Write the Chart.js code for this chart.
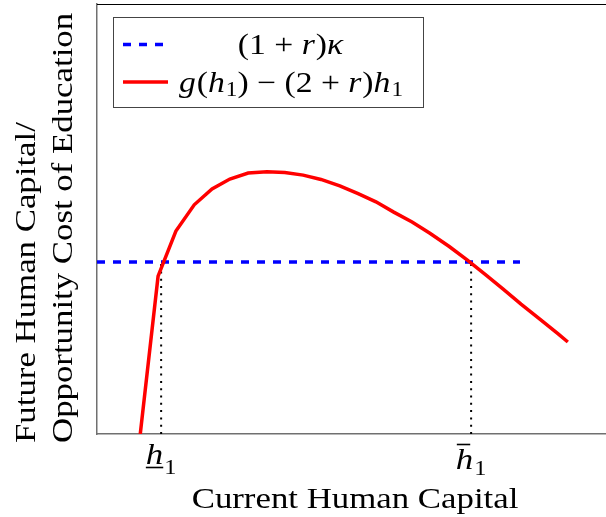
<!DOCTYPE html>
<html>
<head>
<meta charset="utf-8">
<script src="https://cdn.jsdelivr.net/npm/chart.js@4.4.0/dist/chart.umd.min.js"></script>
<style>
  html, body { margin: 0; padding: 0; background: #fff; }
</style>
</head>
<body>
<canvas id="myChart" width="606" height="517"></canvas>
<script>
// values (arbitrary units, axes run 0..10)
const currentCapital = [0.85, 1.20, 1.55, 1.91, 2.26, 2.61, 2.97, 3.34, 3.69, 4.05, 4.40, 4.77, 5.13,
  5.48, 5.83, 6.19, 6.54, 6.92, 7.27, 7.62, 7.98, 8.33, 8.70, 9.06, 9.25];
const netFutureCapital = [0, 3.67, 4.72, 5.33, 5.70, 5.93, 6.07, 6.10, 6.08, 6.02, 5.92, 5.77, 5.59,
  5.40, 5.16, 4.93, 4.67, 4.36, 4.05, 3.72, 3.37, 3.02, 2.67, 2.33, 2.14];
const costLevel = 4.0;
const costSpan = [0, 8.31];
const thresholds = [1.26, 7.35];
const thresholdMarks = ['under', 'bar'];
const xRange = [0, 10];
const yRange = [0, 10];
const legendLabels = ['(1 + r)κ', 'g(h₁) − (2 + r)h₁'];
const xTitle = 'Current Human Capital';
const yTitle = ['Future Human Capital/', 'Opportunity Cost of Education'];

const SERIF = '"Liberation Serif", "DejaVu Serif", serif';
const STRETCH = 1.16; // Computer Modern runs wider than Times

// split a label into roman / italic / subscript runs
function toRuns(str) {
  const runs = [];
  for (const ch of str) {
    let kind = 'r', t = ch;
    if (/[a-zκ]/.test(ch)) kind = 'i';
    if (ch === '₁') { kind = 's'; t = '1'; }
    const last = runs[runs.length - 1];
    if (last && last.kind === kind) last.t += t;
    else runs.push({ kind, t });
  }
  return runs;
}

function runFont(kind, size) {
  if (kind === 'i') return 'italic ' + size + 'px ' + SERIF;
  if (kind === 's') return Math.round(size * 0.7) + 'px ' + SERIF;
  return size + 'px ' + SERIF;
}

function runsWidth(ctx, runs, size) {
  let w = 0;
  runs.forEach(r => {
    ctx.font = runFont(r.kind, size);
    w += ctx.measureText(r.t).width * STRETCH + (r.kind === 'i' ? 1 : 0);
  });
  return w;
}

function stretchedText(ctx, text, x, y) {
  ctx.save();
  ctx.translate(x, y);
  ctx.scale(STRETCH, 1);
  ctx.fillText(text, 0, 0);
  ctx.restore();
}

// draws runs starting at x, returns the x extents of each run
function drawRuns(ctx, runs, x, y, size, subDrop) {
  const spans = [];
  ctx.textBaseline = 'alphabetic';
  ctx.textAlign = 'left';
  runs.forEach(r => {
    ctx.font = runFont(r.kind, size);
    const w = ctx.measureText(r.t).width * STRETCH;
    stretchedText(ctx, r.t, x, r.kind === 's' ? y + subDrop : y);
    spans.push([x, x + w]);
    x += w + (r.kind === 'i' ? 1 : 0);
  });
  return spans;
}

const decorations = {
  id: 'decorations',
  afterDraw(chart) {
    const { ctx, chartArea, scales } = chart;
    ctx.save();
    ctx.fillStyle = '#000';

    // top frame line
    ctx.strokeStyle = '#000';
    ctx.lineWidth = 1;
    ctx.beginPath();
    ctx.moveTo(chartArea.left, chartArea.top + 0.5);
    ctx.lineTo(chartArea.right, chartArea.top + 0.5);
    ctx.stroke();

    // threshold tick labels (top aligned, so the barred one sits lower)
    thresholds.forEach((v, i) => {
      const px = scales.x.getPixelForValue(v);
      const runs = [{ kind: 'i', t: 'h' }, { kind: 's', t: '1' }];
      const under = thresholdMarks[i] === 'under';
      const w = runsWidth(ctx, runs, 30);
      const spans = drawRuns(ctx, runs, px - w / 2, under ? 464 : 469, 30, under ? 10 : 6);
      const [a, b] = spans[0];
      ctx.lineWidth = 1.6;
      ctx.beginPath();
      if (under) {
        ctx.moveTo(a, 467.5); ctx.lineTo(b, 467.5);
      } else {
        ctx.moveTo(a + 1, 444.5); ctx.lineTo(b - 3, 444.5);
      }
      ctx.stroke();
    });

    // axis titles
    ctx.font = '30px ' + SERIF;
    ctx.textAlign = 'center';
    ctx.textBaseline = 'alphabetic';
    stretchedText(ctx, xTitle, 355, 508);

    ctx.textAlign = 'left';
    [35, 71.5].forEach((bx, i) => {
      ctx.save();
      ctx.translate(bx, 443);
      ctx.rotate(-Math.PI / 2);
      stretchedText(ctx, yTitle[i], 0, 0);
      ctx.restore();
    });

    // legend box
    const box = { x: 113.5, y: 17.5, w: 310, h: 90 };
    ctx.fillStyle = '#fff';
    ctx.fillRect(box.x, box.y, box.w, box.h);
    ctx.strokeStyle = '#444';
    ctx.lineWidth = 1;
    ctx.strokeRect(box.x, box.y, box.w, box.h);

    const rows = [44.5, 82];
    const bases = [54, 92];
    const legendSets = [chart.data.datasets[1], chart.data.datasets[0]];
    legendSets.forEach((ds, i) => {
      ctx.strokeStyle = ds.borderColor;
      ctx.lineWidth = 3.5;
      ctx.setLineDash(ds.borderDash || []);
      ctx.beginPath();
      ctx.moveTo(123, rows[i]);
      ctx.lineTo(i === 0 ? 163 : 168, rows[i]);
      ctx.stroke();
      ctx.setLineDash([]);

      const runs = toRuns(legendLabels[i]);
      const w = runsWidth(ctx, runs, 29);
      ctx.fillStyle = '#000';
      drawRuns(ctx, runs, 291 - w / 2, bases[i], 29, 4);
    });
    ctx.restore();
  }
};

const axisBorder = { display: true, color: '#707070', width: 1.5 };

new Chart(document.getElementById('myChart'), {
  type: 'line',
  data: {
    datasets: [
      {
        label: legendLabels[1],
        data: currentCapital.map((x, i) => ({ x, y: netFutureCapital[i] })),
        borderColor: '#ff0000',
        borderWidth: 3.5,
        pointRadius: 0,
        tension: 0
      },
      {
        label: legendLabels[0],
        data: costSpan.map(x => ({ x, y: costLevel })),
        borderColor: '#0000ff',
        borderWidth: 3.5,
        borderDash: [8, 8],
        pointRadius: 0
      },
      ...thresholds.map(t => ({
        label: 'threshold',
        data: [{ x: t, y: yRange[0] }, { x: t, y: costLevel }],
        borderColor: '#000',
        borderWidth: 2,
        borderDash: [2, 5.3],
        pointRadius: 0
      }))
    ]
  },
  options: {
    responsive: false,
    animation: false,
    devicePixelRatio: 1,
    layout: { padding: { left: 97, top: 4, right: 0, bottom: 83 } },
    plugins: { legend: { display: false }, tooltip: { enabled: false } },
    scales: {
      x: {
        type: 'linear',
        min: xRange[0], max: xRange[1],
        ticks: { display: false },
        grid: { display: false, drawTicks: false },
        border: axisBorder,
        afterFit(s) { s.height = 0; }
      },
      y: {
        type: 'linear',
        min: yRange[0], max: yRange[1],
        ticks: { display: false },
        grid: { display: false, drawTicks: false },
        border: axisBorder,
        afterFit(s) { s.width = 0; }
      }
    }
  },
  plugins: [decorations]
});
</script>
</body>
</html>
